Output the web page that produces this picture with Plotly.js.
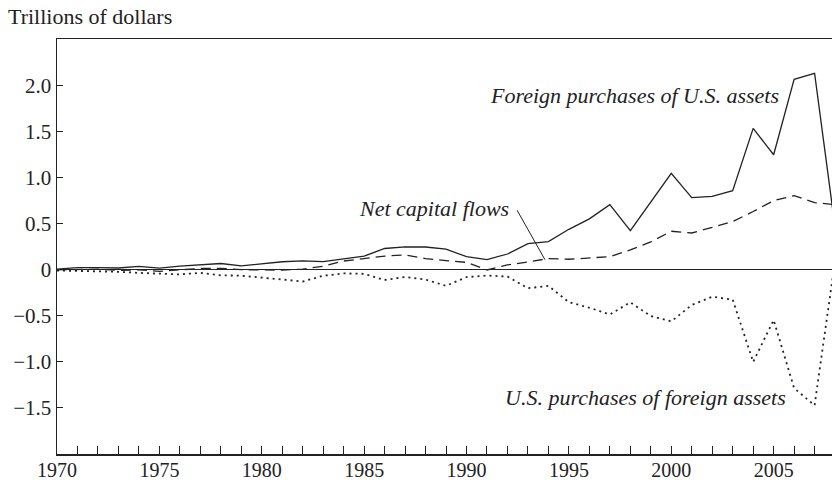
<!DOCTYPE html>
<html>
<head>
<meta charset="utf-8">
<script src="https://cdn.plot.ly/plotly-3.0.1.min.js"></script>
<style>html,body{margin:0;padding:0;background:#fff;}#chart{width:832px;height:484px;}</style>
</head>
<body>
<div id="chart"></div>
<script>
// Years 1970-2008
var years = [1970,1971,1972,1973,1974,1975,1976,1977,1978,1979,
             1980,1981,1982,1983,1984,1985,1986,1987,1988,1989,
             1990,1991,1992,1993,1994,1995,1996,1997,1998,1999,
             2000,2001,2002,2003,2004,2005,2006,2007,2008];
// Foreign purchases of U.S. assets (trillions of dollars)
var foreignPurchases = [0.006,0.023,0.022,0.018,0.035,0.017,0.038,0.053,0.067,0.041,
                        0.063,0.086,0.096,0.088,0.118,0.146,0.230,0.248,0.246,0.224,
                        0.141,0.110,0.170,0.282,0.305,0.438,0.551,0.706,0.423,0.740,
                        1.046,0.782,0.795,0.858,1.533,1.247,2.065,2.130,0.46];
// Net capital flows
var netCapitalFlows = [-0.002,0.001,0.006,-0.007,-0.002,-0.018,-0.004,0.014,0.015,0.000,
                       -0.002,-0.005,0.006,0.038,0.094,0.118,0.147,0.161,0.121,0.099,
                       0.079,-0.003,0.051,0.084,0.121,0.113,0.125,0.141,0.215,0.301,
                       0.417,0.398,0.459,0.522,0.631,0.749,0.803,0.727,0.706];
// U.S. purchases of foreign assets
var usPurchases = [-0.009,-0.013,-0.015,-0.023,-0.035,-0.040,-0.051,-0.035,-0.061,-0.065,
                   -0.086,-0.113,-0.128,-0.066,-0.040,-0.045,-0.112,-0.079,-0.107,-0.175,
                   -0.081,-0.064,-0.074,-0.201,-0.176,-0.352,-0.413,-0.486,-0.354,-0.504,
                   -0.561,-0.383,-0.294,-0.325,-1.001,-0.547,-1.286,-1.472,0.10];

var yTickVals = [-1.5,-1.0,-0.5,0,0.5,1.0,1.5,2.0];
var yTickText = ['\u22121.5','\u22121.0','\u22120.5','0','0.5','1.0','1.5','2.0'];
var xTickYears = [];
var xTickText = [];
for (var i = 0; i < years.length - 1; i++) {
  xTickYears.push(years[i]);
  xTickText.push(years[i] % 5 === 0 ? String(years[i]) : '');
}

var ink = '#222';
var serif = 'Liberation Serif';

var traces = [
  {x: years, y: foreignPurchases, type: 'scatter', mode: 'lines',
   line: {color: ink, width: 1.3}, name: 'Foreign purchases of U.S. assets'},
  {x: years, y: netCapitalFlows, type: 'scatter', mode: 'lines',
   line: {color: ink, width: 1.3, dash: '10px,6px'}, name: 'Net capital flows'},
  {x: years, y: usPurchases, type: 'scatter', mode: 'lines',
   line: {color: ink, width: 1.8, dash: '2px,4px'}, name: 'U.S. purchases of foreign assets'}
];

var layout = {
  width: 832, height: 484,
  margin: {l: 57, r: 0, t: 39, b: 30},
  paper_bgcolor: '#fff', plot_bgcolor: '#fff',
  showlegend: false,
  font: {family: serif, color: ink, size: 21},
  xaxis: {
    range: [1970, 2007.85],
    tickmode: 'array', tickvals: xTickYears, ticktext: xTickText,
    ticks: 'inside', ticklen: 8, tickwidth: 1, tickcolor: ink,
    ticklabelstandoff: -3,
    showline: true, linecolor: ink, linewidth: 1.5, mirror: true,
    showgrid: false, zeroline: false,
    tickfont: {family: serif, size: 20, color: ink}
  },
  yaxis: {
    range: [-2.0, 2.503],
    tickmode: 'array', tickvals: yTickVals, ticktext: yTickText,
    ticks: 'inside', ticklen: 6, tickwidth: 1, tickcolor: ink,
    showline: true, linecolor: ink, linewidth: 1.5,
    showgrid: false, zeroline: true, zerolinecolor: ink, zerolinewidth: 1.5,
    tickfont: {family: serif, size: 21, color: ink}
  },
  shapes: [
    {type: 'line', xref: 'x', yref: 'y', x0: 1992.47, y0: 0.645, x1: 1993.83, y1: 0.109,
     line: {color: ink, width: 1}}
  ],
  annotations: [
    {text: 'Trillions of dollars', xref: 'paper', yref: 'paper', x: -0.0662, y: 1.0537,
     xanchor: 'left', yanchor: 'middle', showarrow: false,
     font: {family: serif, size: 22, color: ink}},
    {text: '<i>Foreign purchases of U.S. assets</i>', xref: 'x', yref: 'y', x: 2005.35, y: 1.895,
     xanchor: 'right', yanchor: 'middle', showarrow: false,
     font: {family: serif, size: 22, color: ink}},
    {text: '<i>Net capital flows</i>', xref: 'x', yref: 'y', x: 1992.15, y: 0.662,
     xanchor: 'right', yanchor: 'middle', showarrow: false,
     font: {family: serif, size: 22, color: ink}},
    {text: '<i>U.S. purchases of foreign assets</i>', xref: 'x', yref: 'y', x: 2005.71, y: -1.385,
     xanchor: 'right', yanchor: 'middle', showarrow: false,
     font: {family: serif, size: 22, color: ink}}
  ]
};

Plotly.newPlot('chart', traces, layout, {displayModeBar: false, staticPlot: true});
</script>
</body>
</html>
